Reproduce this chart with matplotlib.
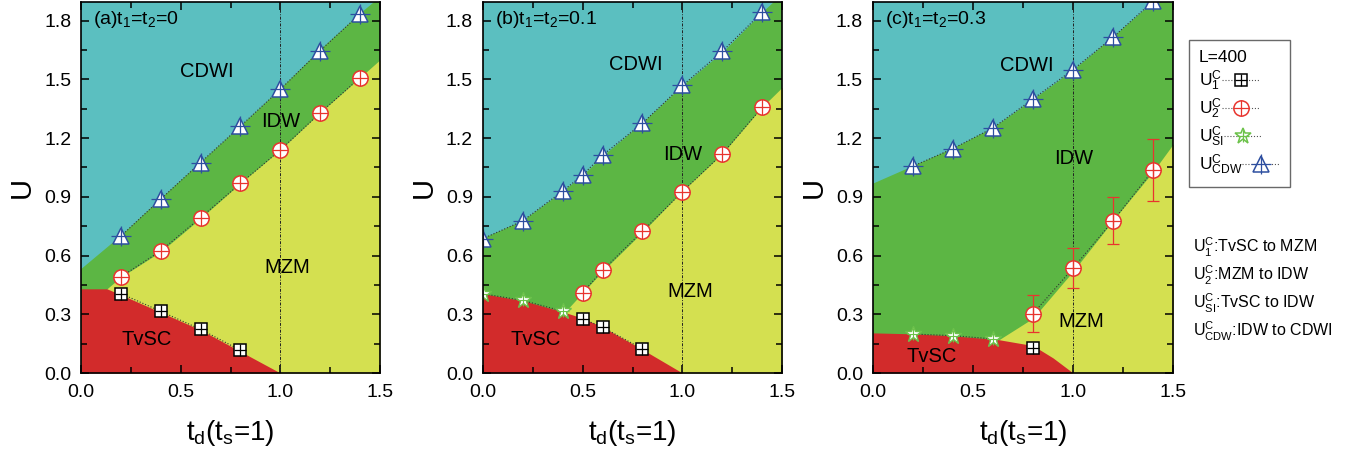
import matplotlib
matplotlib.use("Agg")
import matplotlib.pyplot as plt
from matplotlib.lines import Line2D
from matplotlib.legend_handler import HandlerTuple

plt.rcParams['font.family'] = ['Liberation Sans', 'DejaVu Sans']
plt.rcParams['mathtext.default'] = 'regular'

# ---------------- data ----------------
titles = [r"(a)t$_1$=t$_2$=0", r"(b)t$_1$=t$_2$=0.1", r"(c)t$_1$=t$_2$=0.3"]

# panel a
a_u1_x = [0.2, 0.4, 0.6, 0.8]
a_u1_y = [0.406, 0.315, 0.223, 0.116]
a_u2_x = [0.2, 0.4, 0.6, 0.8, 1.0, 1.2, 1.4]
a_u2_y = [0.491, 0.624, 0.794, 0.968, 1.139, 1.329, 1.508]
a_si_x = []
a_si_y = []
a_cdw_x = [0.2, 0.4, 0.6, 0.8, 1.0, 1.2, 1.4]
a_cdw_y = [0.699, 0.888, 1.075, 1.261, 1.449, 1.647, 1.834]
a_red_bx = [0.0, 0.13, 0.2, 0.4, 0.6, 0.8, 1.0]
a_red_by = [0.43, 0.43, 0.40, 0.31, 0.22, 0.11, 0.0]
a_yel_bx = [0.13, 0.2, 0.4, 0.6, 0.8, 1.0, 1.2, 1.4, 1.5]
a_yel_by = [0.43, 0.49, 0.62, 0.79, 0.97, 1.14, 1.33, 1.51, 1.60]
a_cya_bx = [0.0, 0.2, 0.4, 0.6, 0.8, 1.0, 1.2, 1.4, 1.5]
a_cya_by = [0.53, 0.70, 0.89, 1.075, 1.26, 1.45, 1.65, 1.835, 1.92]

# panel b
b_u1_x = [0.5, 0.6, 0.8]
b_u1_y = [0.277, 0.234, 0.123]
b_u2_x = [0.5, 0.6, 0.8, 1.0, 1.2, 1.4]
b_u2_y = [0.410, 0.524, 0.724, 0.926, 1.120, 1.358]
b_si_x = [0.0, 0.2, 0.4]
b_si_y = [0.405, 0.371, 0.316]
b_cdw_x = [0.0, 0.2, 0.4, 0.5, 0.6, 0.8, 1.0, 1.2, 1.4]
b_cdw_y = [0.686, 0.777, 0.929, 1.011, 1.113, 1.276, 1.469, 1.643, 1.844]
b_red_bx = [0.0, 0.2, 0.41, 0.5, 0.6, 0.8, 1.0]
b_red_by = [0.405, 0.37, 0.31, 0.28, 0.235, 0.12, 0.0]
b_yel_bx = [0.41, 0.5, 0.6, 0.8, 1.0, 1.2, 1.4, 1.5]
b_yel_by = [0.31, 0.41, 0.52, 0.72, 0.93, 1.12, 1.36, 1.46]
b_cya_bx = [0.0, 0.2, 0.4, 0.5, 0.6, 0.8, 1.0, 1.2, 1.4, 1.5]
b_cya_by = [0.69, 0.78, 0.93, 1.01, 1.11, 1.28, 1.47, 1.64, 1.845, 1.94]

# panel c
c_u1_x = [0.8]
c_u1_y = [0.128]
c_u2_x = [0.8, 1.0, 1.2, 1.4]
c_u2_y = [0.303, 0.536, 0.778, 1.037]
c_u2_err = [0.095, 0.10, 0.12, 0.16]
c_si_x = [0.2, 0.4, 0.6]
c_si_y = [0.199, 0.191, 0.174]
c_cdw_x = [0.2, 0.4, 0.6, 0.8, 1.0, 1.2, 1.4]
c_cdw_y = [1.056, 1.146, 1.252, 1.40, 1.55, 1.716, 1.90]
c_red_bx = [0.0, 0.2, 0.4, 0.63, 0.8, 0.9, 1.0]
c_red_by = [0.205, 0.20, 0.19, 0.17, 0.14, 0.077, 0.0]
c_yel_bx = [0.63, 0.8, 1.0, 1.2, 1.4, 1.5]
c_yel_by = [0.17, 0.28, 0.52, 0.78, 1.03, 1.17]
c_cya_bx = [0.0, 0.2, 0.4, 0.6, 0.8, 1.0, 1.2, 1.4, 1.5]
c_cya_by = [0.97, 1.06, 1.15, 1.255, 1.40, 1.55, 1.72, 1.90, 2.02]

region_labels = ["CDWI", "IDW", "MZM", "TvSC"]
a_lab_xy = [(0.63, 1.54), (1.0, 1.283), (1.036, 0.537), (0.33, 0.17)]
b_lab_xy = [(0.766, 1.574), (1.0, 1.118), (1.041, 0.417), (0.267, 0.171)]
c_lab_xy = [(0.768, 1.57), (1.004, 1.095), (1.041, 0.264), (0.294, 0.085)]

legend_title = "L=400"
legend_labels = [r"U$_1^C$", r"U$_2^C$", r"U$_{SI}^C$", r"U$_{CDW}^C$"]
notes = [r"U$_1^C$:TvSC to MZM", r"U$_2^C$:MZM to IDW",
         r"U$_{SI}^C$:TvSC to IDW", r"U$_{CDW}^C$:IDW to CDWI"]

# ---------------- style ----------------
C_CYAN = "#5BBFC0"
C_GREEN = "#5CB644"
C_YEL = "#D4E050"
C_RED = "#D22B2B"
C_SQ = "black"
C_CI = "#E8342E"
C_ST = "#6CC24A"
C_TR = "#2E4FA0"

panels = [
    dict(u1=(a_u1_x, a_u1_y), u2=(a_u2_x, a_u2_y), si=(a_si_x, a_si_y), cdw=(a_cdw_x, a_cdw_y),
         red=(a_red_bx, a_red_by), yel=(a_yel_bx, a_yel_by), cya=(a_cya_bx, a_cya_by),
         lab=a_lab_xy, err=None),
    dict(u1=(b_u1_x, b_u1_y), u2=(b_u2_x, b_u2_y), si=(b_si_x, b_si_y), cdw=(b_cdw_x, b_cdw_y),
         red=(b_red_bx, b_red_by), yel=(b_yel_bx, b_yel_by), cya=(b_cya_bx, b_cya_by),
         lab=b_lab_xy, err=None),
    dict(u1=(c_u1_x, c_u1_y), u2=(c_u2_x, c_u2_y), si=(c_si_x, c_si_y), cdw=(c_cdw_x, c_cdw_y),
         red=(c_red_bx, c_red_by), yel=(c_yel_bx, c_yel_by), cya=(c_cya_bx, c_cya_by),
         lab=c_lab_xy, err=c_u2_err),
]

fig = plt.figure(figsize=(13.49, 4.57), dpi=100)
W, H = 1349, 457
lefts = [81, 482.7, 872.7]
widths = [299, 299.6, 300.6]
top_px, bot_px = 2, 373

YMAX = 1.895

for i, p in enumerate(panels):
    ax = fig.add_axes([lefts[i] / W, 1 - bot_px / H, widths[i] / W, (bot_px - top_px) / H])
    ax.set_xlim(0, 1.5)
    ax.set_ylim(0, YMAX)
    ax.set_facecolor(C_GREEN)
    cx, cy = p['cya']
    ax.fill_between(cx, cy, [3] * len(cx), color=C_CYAN, lw=0, zorder=1)
    yx, yy = p['yel']
    ax.fill_between(yx, [0] * len(yx), yy, color=C_YEL, lw=0, zorder=1)
    rx, ry = p['red']
    ax.fill_between(rx, [0] * len(rx), ry, color=C_RED, lw=0, zorder=1.1)

    ax.axvline(1.0, color='#222222', lw=0.7, ls=(0, (3, 1.5, 1, 1.5)), zorder=2)

    line_kw = dict(ls=':', color='#333333', lw=0.8, zorder=3)
    # squares
    x, y = p['u1']
    ax.plot(x, y, marker='s', ms=9, mfc='white', mec=C_SQ, mew=1.1, **line_kw)
    ax.plot(x, y, ls='none', marker='+', ms=9, color=C_SQ, mew=0.9, zorder=4)
    # circles
    x, y = p['u2']
    ax.plot(x, y, marker='o', ms=11, mfc='white', mec=C_CI, mew=1.1, **line_kw)
    if p['err'] is not None:
        ax.errorbar(x, y, yerr=p['err'], fmt='none', ecolor=C_CI, elinewidth=0.9,
                    capsize=4, capthick=0.9, zorder=3.5)
    ax.plot(x, y, ls='none', marker='+', ms=11, color=C_CI, mew=0.9, zorder=4)
    # stars
    x, y = p['si']
    if len(x):
        ax.plot(x, y, marker='*', ms=12, mfc='white', mec=C_ST, mew=1.0, **line_kw)
        ax.plot(x, y, ls='none', marker='+', ms=9, color=C_ST, mew=0.8, zorder=4)
    # triangles
    x, y = p['cdw']
    ax.plot(x, y, marker='^', ms=12, mfc='white', mec=C_TR, mew=1.1, **line_kw)
    ax.plot(x, y, ls='none', marker='+', ms=15, color=C_TR, mew=0.9, zorder=4)

    for txt, (lx, ly) in zip(region_labels, p['lab']):
        ax.text(lx, ly, txt, fontsize=14.5, ha='center', va='center', zorder=5)

    ax.text(0.04, 0.953, titles[i], transform=ax.transAxes, fontsize=14,
            ha='left', va='center', zorder=5)

    ax.set_xticks([0.0, 0.5, 1.0, 1.5])
    ax.set_xticks([0.25, 0.75, 1.25], minor=True)
    ax.set_yticks([0.0, 0.3, 0.6, 0.9, 1.2, 1.5, 1.8])
    ax.set_yticks([0.15, 0.45, 0.75, 1.05, 1.35, 1.65], minor=True)
    ax.xaxis.set_major_formatter(matplotlib.ticker.FormatStrFormatter('%.1f'))
    ax.yaxis.set_major_formatter(matplotlib.ticker.FormatStrFormatter('%.1f'))
    ax.tick_params(which='both', direction='in', top=True, right=True, labelsize=14, width=1.1)
    ax.tick_params(which='major', length=6)
    ax.tick_params(which='minor', length=4)
    ax.tick_params(axis='y', pad=7)
    ax.tick_params(axis='x', pad=8)
    for s in ax.spines.values():
        s.set_linewidth(1.2)
        s.set_zorder(6)
    ax.set_xlabel(r"t$_d$(t$_s$=1)", fontsize=20, labelpad=12)
    ax.set_ylabel("U", fontsize=21, labelpad=6)

# legend
def h(marker, col, ms, pms):
    base = Line2D([], [], ls=':', color='#555555', lw=0.8, marker=marker, ms=ms,
                  mfc='white', mec=col, mew=1.1)
    plus = Line2D([], [], ls='none', marker='+', ms=pms, color=col, mew=0.9)
    return (base, plus)

handles = [h('s', C_SQ, 9, 9), h('o', C_CI, 11, 11), h('*', C_ST, 12, 9), h('^', C_TR, 12, 15)]
leg = fig.legend(handles, legend_labels, loc='upper left',
                 bbox_to_anchor=(1189 / W, 1 - 40 / H), title=legend_title,
                 markerfirst=False, frameon=True, fancybox=False, edgecolor='#444444',
                 fontsize=12.5, title_fontsize=12.5, handlelength=2.2, handletextpad=0.0,
                 labelspacing=0.22, borderpad=0.55, borderaxespad=0.0,
                 handler_map={tuple: HandlerTuple(ndivide=1)})
leg._legend_box.align = "left"
for col in leg._legend_handle_box.get_children():
    col.align = "left"
leg.get_frame().set_linewidth(1.0)

ys = [247, 275, 303, 331]
for t, yy in zip(notes, ys):
    fig.text(1193 / W, 1 - yy / H, t, fontsize=11.5, ha='left', va='center')

fig.savefig("out.png", dpi=100)
